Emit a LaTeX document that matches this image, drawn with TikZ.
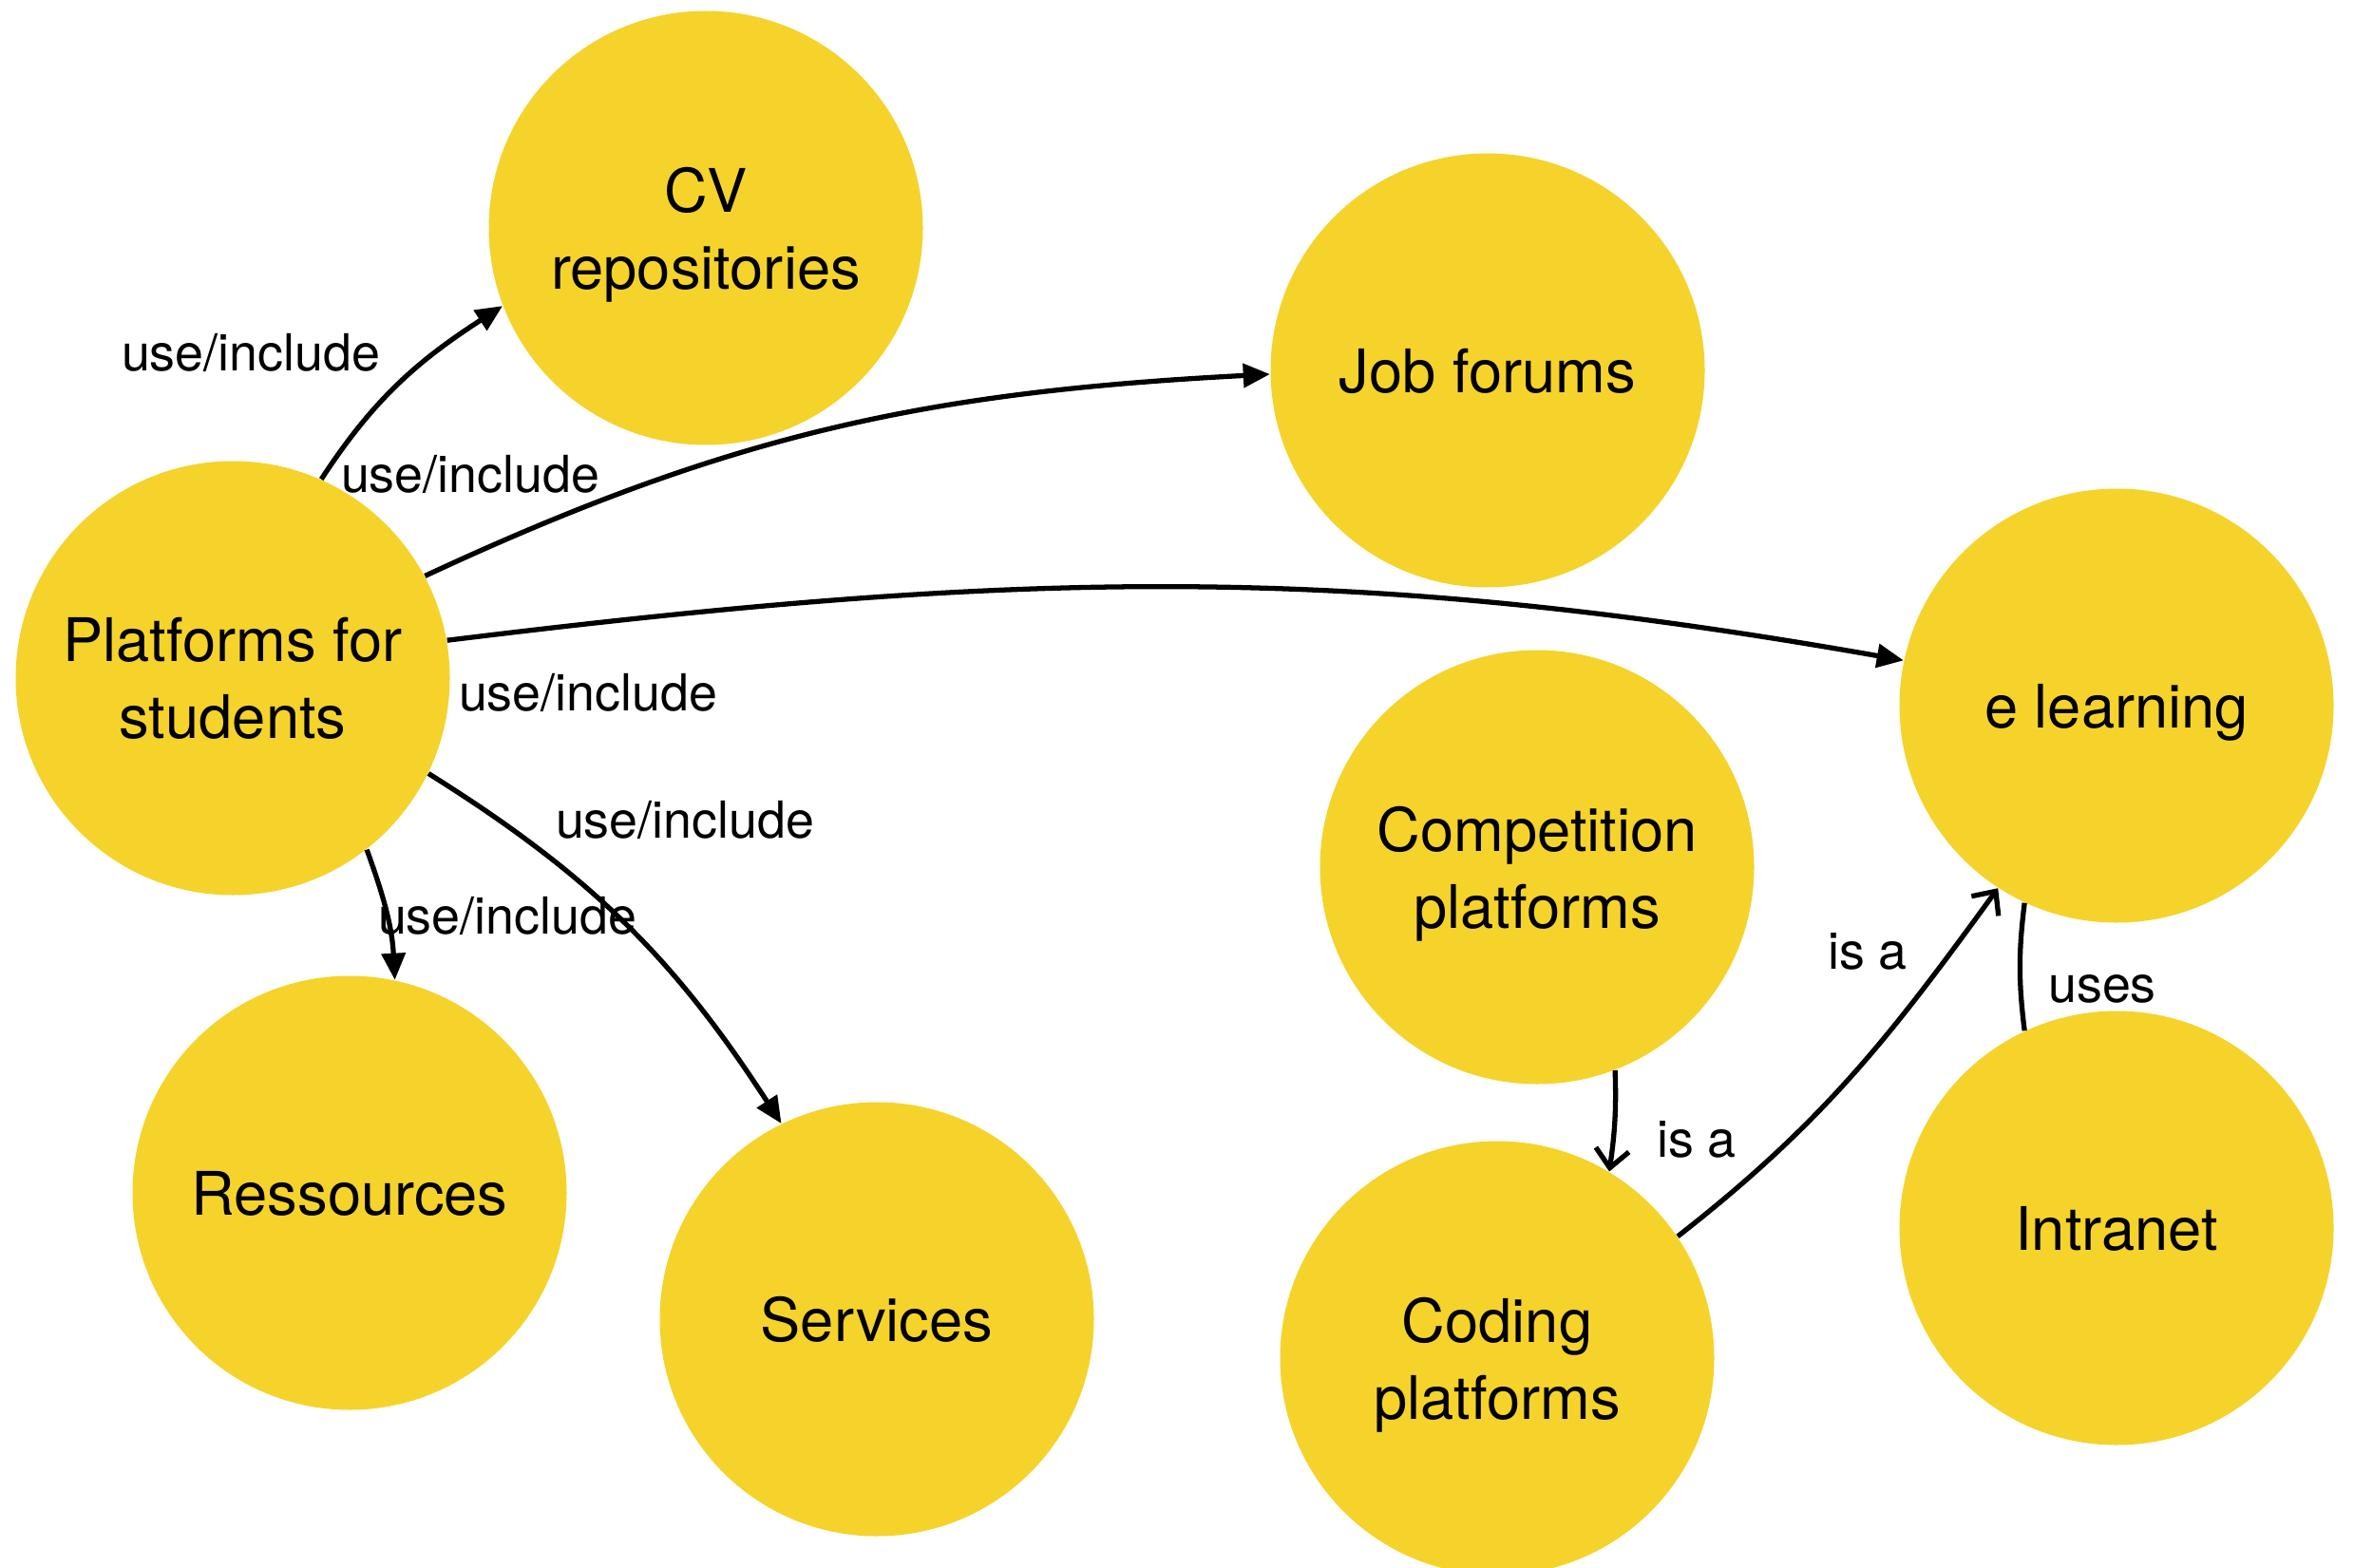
\documentclass[tikz,border=0pt]{standalone}
\usepackage{fontspec}
\setmainfont{TeX Gyre Heros}
\usepackage{tikz}
\usetikzlibrary{arrows.meta,positioning,calc}
\definecolor{sunyellow}{RGB}{245,211,43}

\begin{document}
\begin{tikzpicture}[
    topic/.style={circle,fill=sunyellow,minimum size=4.57cm,inner sep=0pt,align=center,
      font=\fontsize{18}{23}\selectfont,text depth=0pt},
    rel/.style={font=\fontsize{15.3}{18}\selectfont},
    incl/.style={-{Triangle[length=8pt,width=7pt]},line width=1.5pt},
    isa/.style={-{Straight Barb[length=5.5pt,width=10pt]},line width=1.5pt},
    plain/.style={line width=1.5pt}]
  \useasboundingbox (0,0) rectangle (24.78,16.5);
  % circles
  \node[topic] (plat) at (2.45,9.36) {Platforms for\\students};
  \node[topic] (cv) at (7.43,14.10) {CV\\repositories};
  \node[topic] (job) at (15.66,12.60) {Job forums};
  \node[topic] (elearn) at (22.28,9.07) {e learning};
  \node[topic] (comp) at (16.18,7.37) {Competition\\platforms};
  \node[topic] (coding) at (15.76,2.20) {Coding\\platforms};
  \node[topic] (intranet) at (22.28,3.57) {Intranet};
  \node[topic] (res) at (3.68,3.94) {Ressources};
  \node[topic] (serv) at (9.23,2.61) {Services};
  % links
  \draw[incl] (plat.66) to[out=57,in=213] (cv.201);
  \draw[incl] (plat.28) to[out=25,in=183] (job.181);
  \draw[incl] (plat.10) to[out=7,in=170] (elearn.168);
  \draw[incl] (plat.-26) to[out=-32,in=123] (serv.116);
  \draw[incl] (plat.-52) to[out=-70,in=93] (res.78);
  \draw[isa] (comp.-69) to[out=-88,in=82] (coding.59);
  \draw[isa] (coding.34) to[out=38,in=234] (elearn.237);
  \draw[plain] (intranet.115) to[out=97,in=263] (elearn.245);
  % labels
  \node[rel] (l1) at (2.64,12.79) {use/include};
  \node[rel] (l2) at (4.95,11.51) {use/include};
  \node[rel] (l3) at (6.19,9.21) {use/include};
  \node[rel] (l4) at (7.21,7.87) {use/include};
  \node[rel] (l5) at (5.34,6.86) {use/include};
  \node[rel] (l6) at (17.86,4.50) {is a};
  \node[rel] (l7) at (19.66,6.48) {is a};
  \node[rel] (l8) at (22.13,6.09) {uses};
\end{tikzpicture}
\end{document}
